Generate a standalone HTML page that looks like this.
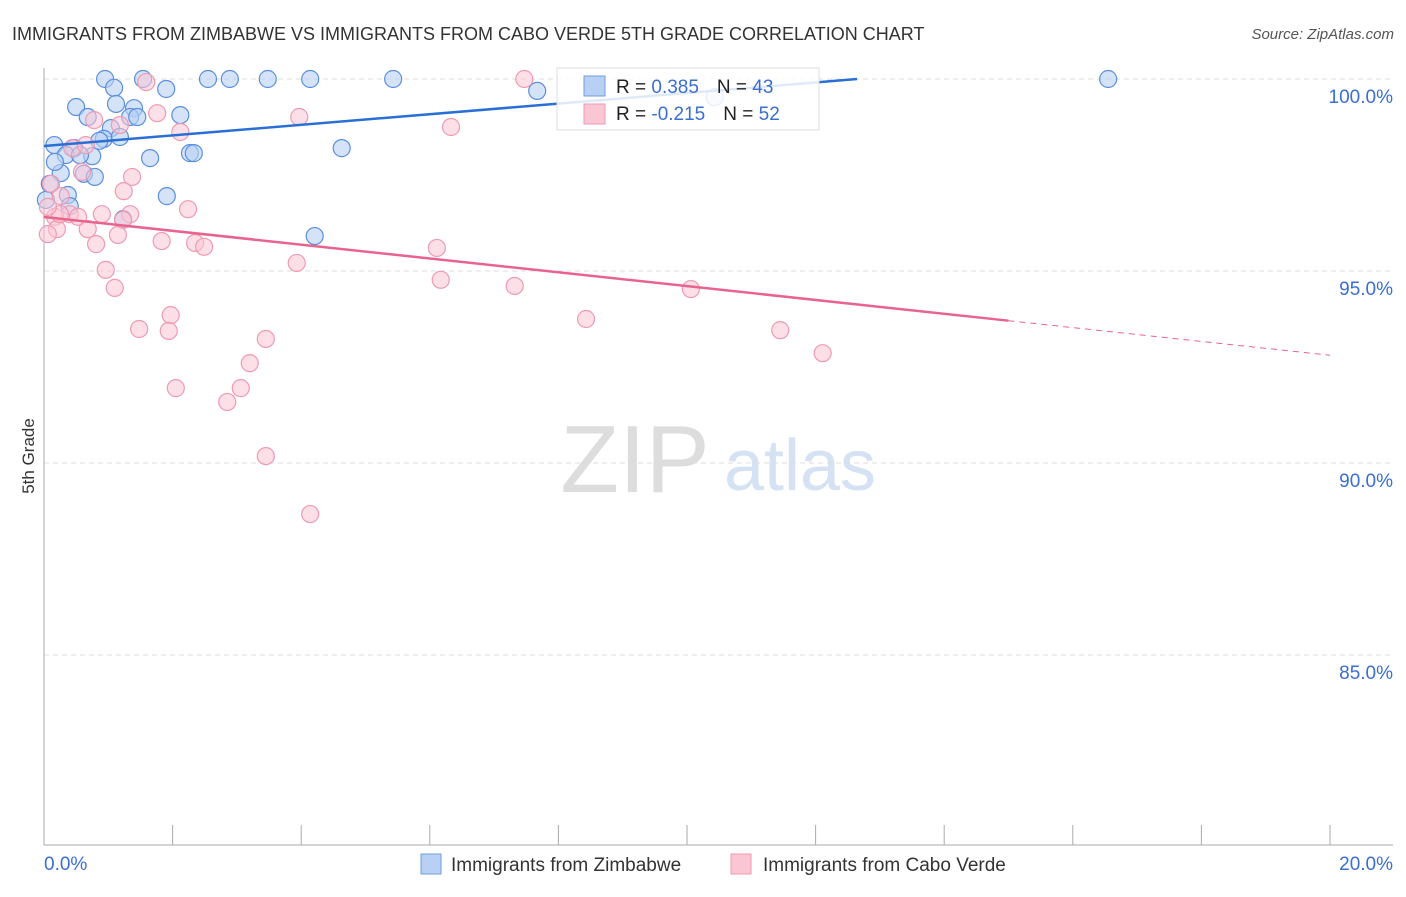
<!DOCTYPE html>
<html><head><meta charset="utf-8"><style>
body{margin:0;background:#fff;font-family:"Liberation Sans",sans-serif;}
svg text{font-family:"Liberation Sans",sans-serif;}
</style></head><body>
<svg width="1406" height="892" xmlns="http://www.w3.org/2000/svg">
<text x="12" y="40" font-size="18" fill="#333">IMMIGRANTS FROM ZIMBABWE VS IMMIGRANTS FROM CABO VERDE 5TH GRADE CORRELATION CHART</text>
<text x="1394" y="39" font-size="15" fill="#555" font-style="italic" text-anchor="end">Source: ZipAtlas.com</text>
<text x="34" y="456" font-size="17" fill="#333" transform="rotate(-90 34 456)" text-anchor="middle">5th Grade</text>
<text x="635" y="492" font-size="96" fill="#ddd" font-family="Liberation Serif" text-anchor="middle">ZIP</text>
<text x="800" y="490" font-size="72" fill="#d4e2f4" text-anchor="middle">atlas</text>
<g id="grid"></g><g id="axes"></g><g id="pts"></g><g id="lines"></g>
<g>
<rect x="557" y="68" width="262" height="62" fill="#fff" fill-opacity="0.85" stroke="#ddd"/>
<rect x="584" y="76" width="21" height="20" fill="#b8d0f4" stroke="#6f9ee0"/>
<rect x="584" y="104" width="21" height="20" fill="#fbc6d4" stroke="#ee9ab3"/>
<text x="616" y="93" font-size="19" fill="#222">R = <tspan fill="#3a6fd0"> 0.385</tspan><tspan dx="18">N = </tspan><tspan fill="#3a6fd0">43</tspan></text>
<text x="616" y="120" font-size="19" fill="#222">R = <tspan fill="#3a6fd0">-0.215</tspan><tspan dx="18">N = </tspan><tspan fill="#3a6fd0">52</tspan></text>
</g>
<g>
<rect x="421" y="854" width="20" height="20" fill="#b8d0f4" stroke="#6f9ee0"/>
<text x="451" y="871" font-size="19" fill="#333">Immigrants from Zimbabwe</text>
<rect x="731" y="854" width="20" height="20" fill="#fbc6d4" stroke="#ee9ab3"/>
<text x="763" y="871" font-size="19" fill="#333">Immigrants from Cabo Verde</text>
</g>
</svg>
<script>
const yTicks=[100,95,90,85];
const yTickLabels=["100.0%","95.0%","90.0%","85.0%"];
const xTicks=[0,2,4,6,8,10,12,14,16,18,20];
const blueX=[0.95,1.54,2.55,2.89,3.48,4.14,5.43,16.55,1.90,1.09,7.67,10.43,0.50,1.12,1.40,2.12,0.68,1.34,1.45,1.04,0.93,0.86,1.18,0.16,0.47,4.63,2.27,2.33,0.34,0.75,0.56,1.65,0.26,0.62,0.79,0.17,0.37,1.91,0.40,1.23,4.21,0.03,0.09];
const blueY=[100,100,100,100,100,100,100,100,99.74,99.77,99.69,99.53,99.27,99.35,99.24,99.06,99.01,99.01,99.01,98.72,98.44,98.39,98.49,98.28,98.20,98.20,98.07,98.07,98.02,97.99,98.02,97.94,97.55,97.53,97.45,97.84,96.98,96.95,96.69,96.35,95.91,96.85,97.27];
const pinkX=[7.47,1.59,1.76,3.97,6.33,1.18,2.12,0.78,0.44,0.65,0.11,1.37,1.24,0.26,2.24,0.40,0.90,1.34,0.53,0.17,1.23,0.68,0.20,1.15,0.06,1.83,2.35,2.49,0.81,6.11,3.93,0.96,6.17,7.32,10.06,1.10,1.97,1.48,1.94,8.43,11.45,3.45,12.11,3.20,2.05,3.06,2.85,3.45,4.14,0.59,0.25,0.06];
const pinkY=[100,99.92,99.11,99.01,98.75,98.80,98.62,98.93,98.20,98.28,97.27,97.45,97.08,96.95,96.61,96.48,96.48,96.48,96.41,96.41,96.33,96.09,96.09,95.94,95.96,95.78,95.73,95.63,95.70,95.60,95.21,95.03,94.77,94.61,94.53,94.56,93.85,93.49,93.44,93.75,93.46,93.23,92.86,92.60,91.95,91.95,91.59,90.18,88.67,97.58,96.48,96.67];
const blueLine=[98.255,0.138];
const pinkLine=[96.406,-0.180];
const NS="http://www.w3.org/2000/svg";
const xs=v=>44+v*64.3, ys=v=>79+(100-v)*38.4;
function mk(p,t,a){const e=document.createElementNS(NS,t);for(const k in a)e.setAttribute(k,a[k]);document.getElementById(p).appendChild(e);return e;}
yTicks.forEach((t,i)=>{
 const g=mk('grid','line',{x1:44,x2:1393,y1:ys(t),y2:ys(t),stroke:'#ddd','stroke-dasharray':'5,4'});
 
 
 const l=mk('axes','text',{x:1393,y:ys(t)+24,'font-size':19,fill:'#3a6fd0','text-anchor':'end'});
 l.textContent=yTickLabels[i];
 
 
});
const ax=mk('axes','line',{x1:44,x2:44,y1:68,y2:845,stroke:'#aaa'});


const bx=mk('axes','line',{x1:44,x2:1393,y1:845,y2:845,stroke:'#aaa'});


xTicks.forEach(t=>{
 const e=mk('axes','line',{x1:xs(t),x2:xs(t),y1:825,y2:845,stroke:'#aaa'});
 
 
});
const x0=mk('axes','text',{x:44,y:870,'font-size':19,fill:'#3a6fd0'});x0.textContent='0.0%';


const x1=mk('axes','text',{x:1393,y:870,'font-size':19,fill:'#3a6fd0','text-anchor':'end'});x1.textContent='20.0%';


blueX.forEach((x,i)=>{
 const c=mk('pts','circle',{cx:xs(x),cy:ys(blueY[i]),r:8.5,fill:'#b8d0f4','fill-opacity':0.6,stroke:'#5b8fde','stroke-width':1.2});
 
 
});
pinkX.forEach((x,i)=>{
 const c=mk('pts','circle',{cx:xs(x),cy:ys(pinkY[i]),r:8.5,fill:'#fbc6d4','fill-opacity':0.55,stroke:'#ee9ab3','stroke-width':1.2});
 
 
});
const bEnd=(100-blueLine[0])/blueLine[1];
const bl=mk('lines','line',{x1:xs(0),y1:ys(blueLine[0]),x2:xs(bEnd),y2:ys(100),stroke:'#2a6fd6','stroke-width':2.5});


const pv=x=>pinkLine[0]+pinkLine[1]*x;
const pl=mk('lines','line',{x1:xs(0),y1:ys(pv(0)),x2:xs(15),y2:ys(pv(15)),stroke:'#e8648f','stroke-width':2.5});


const pd=mk('lines','line',{x1:xs(15),y1:ys(pv(15)),x2:xs(20),y2:ys(pv(20)),stroke:'#e8648f','stroke-width':1,'stroke-dasharray':'6,5'});


</script>
</body></html>
